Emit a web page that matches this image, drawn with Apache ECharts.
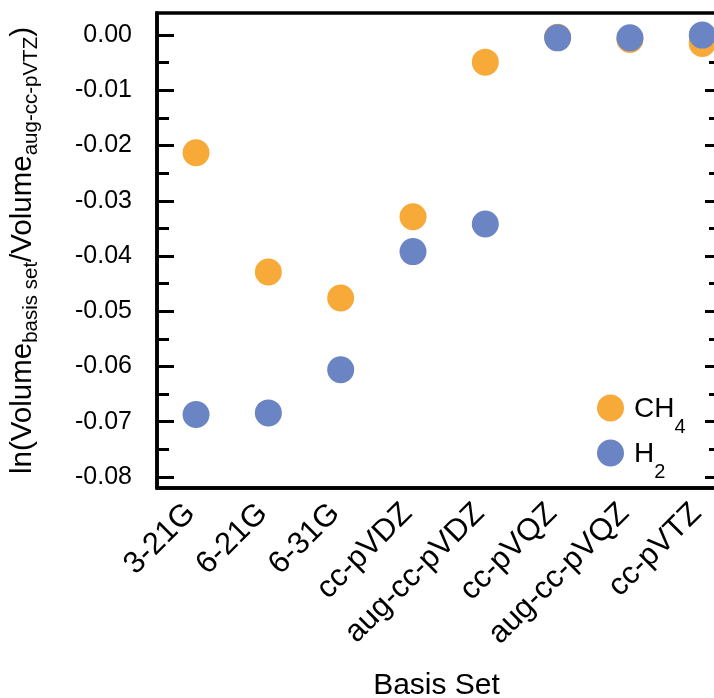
<!DOCTYPE html>
<html>
<head>
<meta charset="utf-8">
<script src="https://cdn.jsdelivr.net/npm/echarts@6/dist/echarts.min.js"></script>
<style>
  html, body { margin: 0; padding: 0; background: #fff; }
  #chart { width: 714px; height: 698px; }
</style>
</head>
<body>
<div id="chart"></div>
<script>
// basis sets along x
const categories = ["3-21G", "6-21G", "6-31G", "cc-pVDZ", "aug-cc-pVDZ", "cc-pVQZ", "aug-cc-pVQZ", "cc-pVTZ"];
// ln(V_basis / V_aug-cc-pVTZ)
const ch4 = [-0.0213, -0.0429, -0.0476, -0.0329, -0.0049, -0.0004, -0.0008, -0.0015];
const h2 = [-0.0687, -0.0684, -0.0606, -0.0392, -0.0342, -0.0005, -0.0005, 0.0000];
const yTicks = [-0.08, -0.07, -0.06, -0.05, -0.04, -0.03, -0.02, -0.01, 0.0];
const yMinorTicks = [-0.075, -0.065, -0.055, -0.045, -0.035, -0.025, -0.015, -0.005];

const orange = "#f8aa38";
const blue = "#6b84c4";
const font = "Liberation Sans, Arial, sans-serif";

const myChart = echarts.init(document.getElementById("chart"));

// rich text styles for subscripts
const titleBig = { fontSize: 29.5, fontFamily: font, color: "#000", lineHeight: 30, verticalAlign: "top" };
const titleSub = { fontSize: 20.5, fontFamily: font, color: "#000", lineHeight: 20, padding: [17, 0, 0, 0] };
const legBig = { fontSize: 28, fontFamily: font, color: "#000", lineHeight: 28, verticalAlign: "top", padding: [1, 0, 14, 5] };
const legSub = { fontSize: 20, fontFamily: font, color: "#000", lineHeight: 20, verticalAlign: "top", padding: [23, 0, 0, 0] };

function yAxisBase(pos, tickVals, len, withLabel, withLine) {
  return {
    type: "value",
    position: pos,
    min: -0.082,
    max: 0.004,
    splitLine: { show: false },
    axisLine: { show: withLine, onZero: false, lineStyle: { color: "#000", width: 3.5 } },
    axisTick: {
      show: true,
      inside: true,
      length: len,
      customValues: tickVals,
      lineStyle: { color: "#000", width: 3 }
    },
    axisLabel: {
      show: withLabel,
      customValues: yTicks,
      margin: 25,
      fontSize: 25,
      fontFamily: font,
      color: "#000",
      formatter: v => v.toFixed(2)
    }
  };
}

const leftMain = yAxisBase("left", yTicks, 17, true, true);
leftMain.name = "{a|ln(Volume}{s|basis set}{a|/Volume}{s|aug-cc-pVTZ}{a|)}";
leftMain.nameLocation = "middle";
leftMain.nameGap = 119;
leftMain.nameRotate = 90;
leftMain.nameTextStyle = { rich: { a: titleBig, s: titleSub } };

let option = {
  animation: false,
  backgroundColor: "#fff",
  grid: {
    left: 157,
    top: 13,
    right: -2,
    bottom: 210,
    show: true,
    borderColor: "#000",
    borderWidth: 3.5,
    containLabel: false,
    outerBoundsMode: "none"
  },
  xAxis: {
    type: "value",
    min: -0.54,
    max: 7.19,
    name: "Basis Set",
    nameLocation: "middle",
    nameGap: 183,
    nameTextStyle: { fontSize: 30, fontFamily: font, color: "#000" },
    splitLine: { show: false },
    axisLine: { show: true, onZero: false, lineStyle: { color: "#000", width: 3.5 } },
    axisTick: { show: false },
    axisLabel: {
      customValues: [0, 1, 2, 3, 4, 5, 6, 7],
      rotate: 45,
      margin: 15,
      padding: [0, 8, 0, 0],
      fontSize: 31,
      fontFamily: font,
      color: "#000",
      formatter: v => categories[Math.round(v)]
    }
  },
  yAxis: [
    leftMain,
    yAxisBase("left", yMinorTicks, 12, false, false),
    yAxisBase("right", yTicks, 11, false, false),
    yAxisBase("right", yMinorTicks, 7, false, false)
  ],
  legend: {
    orient: "vertical",
    left: 592,
    top: 389,
    icon: "circle",
    itemWidth: 27,
    itemHeight: 27,
    itemGap: 2,
    formatter: name => name === "CH4" ? "{a|CH}{s|4}" : "{a|H}{s|2}",
    textStyle: { rich: { a: legBig, s: legSub } },
    data: ["CH4", "H2"]
  },
  series: [
    {
      name: "CH4",
      type: "scatter",
      symbolSize: 27,
      itemStyle: { color: orange, opacity: 1 },
      data: ch4.map((v, i) => [i, v])
    },
    {
      name: "H2",
      type: "scatter",
      symbolSize: 27,
      itemStyle: { color: blue, opacity: 1 },
      data: h2.map((v, i) => [i, v])
    }
  ]
};
myChart.setOption(option, true);

window.addEventListener("resize", () => {
  myChart.resize();
});
</script>
</body>
</html>
